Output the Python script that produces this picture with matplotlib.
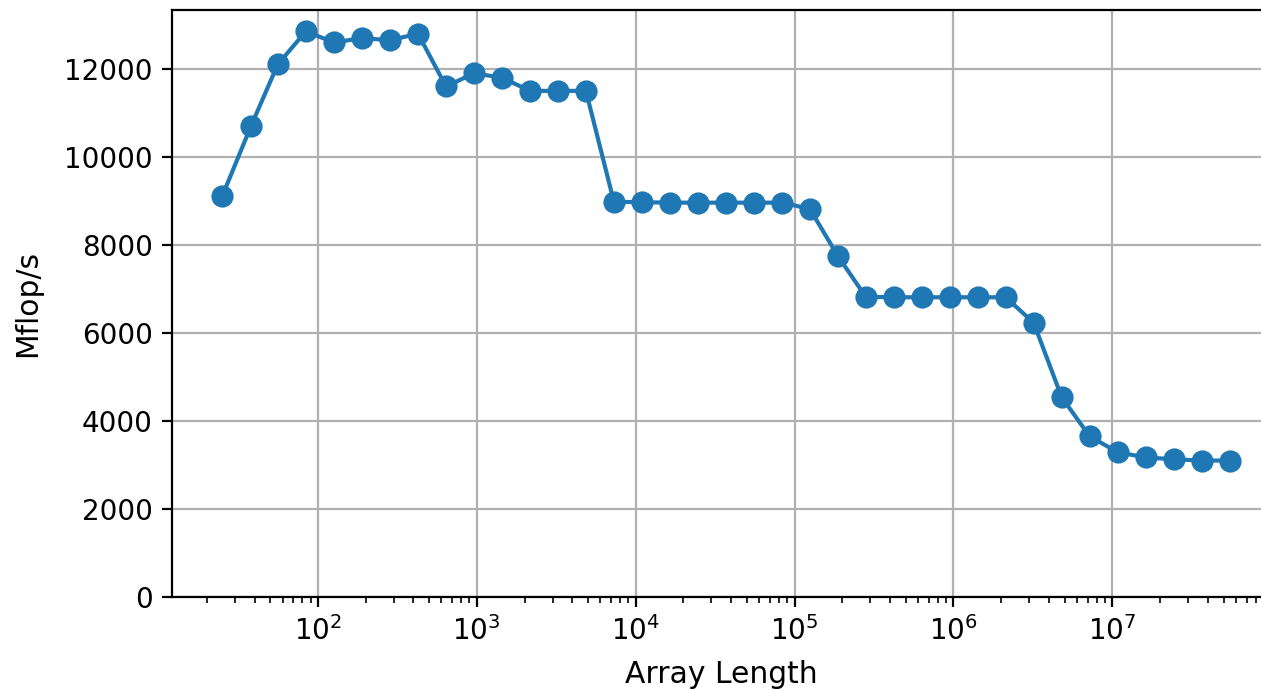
import matplotlib
matplotlib.use("Agg")
import matplotlib.pyplot as plt

# tamanhos de vetor testados (crescimento de 1.5x)
array_length = [
    25, 38, 56, 84, 127, 190, 285, 427, 641, 961,
    1442, 2162, 3244, 4865, 7298, 10947, 16421, 24631, 36947, 55420,
    83131, 124696, 187044, 280566, 420849, 631274, 946911, 1420366, 2130549, 3195824,
    4793736, 7190604, 10785906, 16178858, 24268288, 36402432, 54603648,
]

# desempenho medido em Mflop/s
mflops = [
    9100, 10700, 12100, 12850, 12600, 12700, 12650, 12800, 11600, 11900,
    11800, 11500, 11500, 11500, 8980, 8970, 8960, 8960, 8960, 8960,
    8960, 8820, 7750, 6820, 6810, 6810, 6810, 6810, 6810, 6230,
    4540, 3650, 3290, 3170, 3130, 3100, 3100,
]

fig = plt.figure(figsize=(6.305, 3.45), dpi=200)
ax = fig.add_subplot(111)
# o eixo passa um pouco da borda direita da figura
fig.subplots_adjust(left=0.1364, right=1.0071, top=0.9855, bottom=0.1348)

ax.plot(array_length, mflops, marker="o", markersize=7)
ax.set_xscale("log")
ax.set_xlim(12.1, 9.8e7)
ax.set_ylim(bottom=0)
ax.set_xlabel("Array Length", fontsize=10.7, labelpad=4.8)
ax.set_ylabel("Mflop/s", fontsize=10.7, labelpad=8)
ax.grid(True)

fig.savefig("out.png", dpi=200)
